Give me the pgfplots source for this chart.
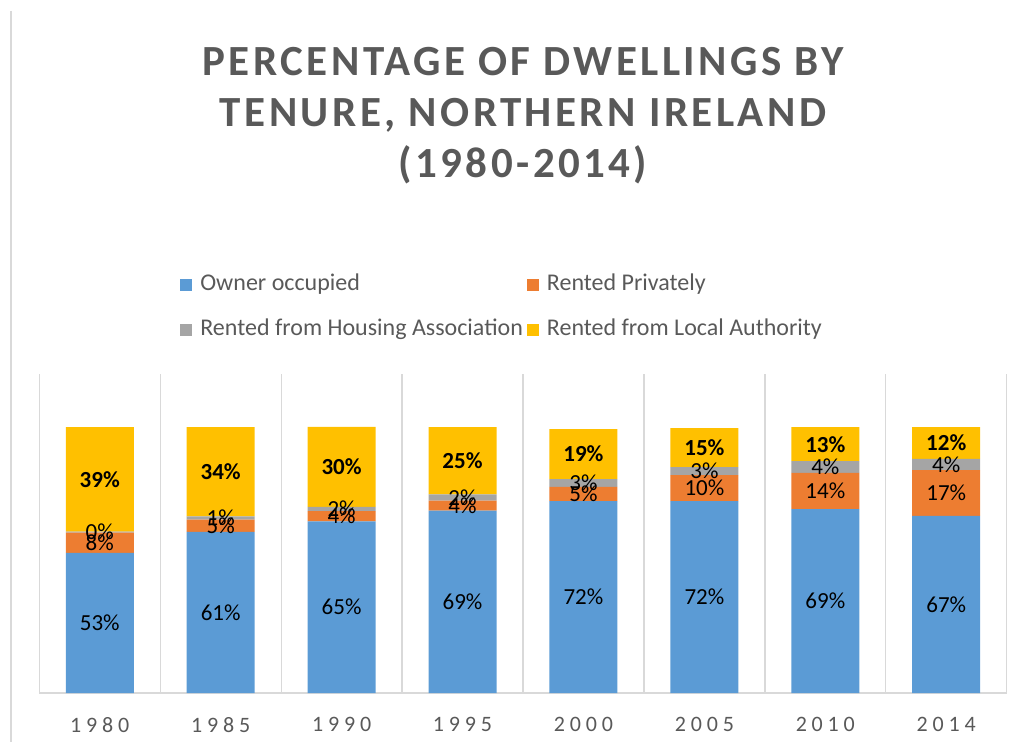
\documentclass[border=0pt]{standalone}
\usepackage{fontspec}
\setmainfont{Carlito}
\usepackage{pgfplots}
\pgfplotsset{compat=1.18}
\usepackage{pgfplotstable}
\definecolor{cOO}{HTML}{5B9BD5}
\definecolor{cRP}{HTML}{ED7D31}
\definecolor{cHA}{HTML}{A5A5A5}
\definecolor{cLA}{HTML}{FFC000}
\definecolor{txt}{HTML}{595959}
\definecolor{grd}{HTML}{D9D9D9}

\pgfplotstableread{
x  oo   rp   ha   la
0  52.7 7.6  0.4  39.3
1  60.6 4.6  1.2  33.6
2  64.6 3.8  1.6  30.1
3  68.6 3.8  2.3  25.3
4  72.2 5.3  3.0  18.8
5  72.2 9.8  3.0  14.6
6  69.2 13.6 4.4  12.8
7  66.6 17.2 4.3  11.9
}\datatable

\pgfplotsset{
  base/.style={
    at={(39.3pt,49pt)}, anchor=south west, scale only axis,
    width=967.4pt, height=319pt,
    xmin=-0.5, xmax=7.5, ymin=0, ymax=120,
  },
  legsq/.style={legend image code/.code={\fill[##1] (0pt,-6pt) rectangle (12pt,6pt);}},
}

\begin{document}
\begin{tikzpicture}[x=1pt,y=1pt]
\useasboundingbox (0,0) rectangle (1023,742);
\draw[grd, line width=2pt] (11,731) -- (11,0);
\begin{axis}[base,
  ybar stacked, bar width=68pt,
  axis y line=none, axis x line*=bottom,
  x axis line style={grd, line width=1.3pt},
  xtick={0,...,7}, xticklabels={1980,1985,1990,1995,2000,2005,2010,2014},
  major tick length=0pt, minor tick length=0pt,
  minor xtick={-0.5,0.5,...,7.5},
  xminorgrids, minor grid style={grd, line width=1.3pt},
  xticklabel style={font=\fontsize{22}{26}\selectfont\addfontfeatures{LetterSpace=22}, text=txt, yshift=-21pt},
  title={PERCENTAGE OF DWELLINGS BY\\TENURE, NORTHERN IRELAND\\(1980-2014)},
  title style={at={(0.5,1.79)}, anchor=center, align=center,
    font=\fontsize{43}{51}\selectfont\bfseries\addfontfeatures{LetterSpace=8}, text=txt},
  legend columns=2,
  legend cell align=left,
  legend style={at={(0.1425,1.326)}, anchor=north west, draw=none, fill=none,
    font=\fontsize{24}{28}\selectfont, text=txt,
    row sep=20pt,
    nodes={text height=16pt, text depth=5pt},
    /tikz/every odd column/.append style={column sep=6pt},
    /tikz/every even column/.append style={column sep=2pt}},
]
\addplot[fill=cOO, draw=none, legsq] table[x=x, y=oo] \datatable;
\addplot[fill=cRP, draw=none, legsq] table[x=x, y=rp] \datatable;
\addplot[fill=cHA, draw=none, legsq] table[x=x, y=ha] \datatable;
\addplot[fill=cLA, draw=none, legsq] table[x=x, y=la] \datatable;
\legend{Owner occupied, Rented Privately, Rented from Housing Association, Rented from Local Authority}
\end{axis}
\begin{axis}[base, hide axis,
  point meta=explicit,
  nodes near coords={\pgfmathprintnumber[fixed,precision=0,assume math mode=true]{\pgfplotspointmeta}\%},
  every node near coord/.append style={anchor=center, font=\fontsize{23}{27}\selectfont, text=black},
]
\addplot[draw=none, mark=none] table[x=x, y expr=\thisrow{oo}/2, meta=oo] \datatable;
\addplot[draw=none, mark=none] table[x=x, y expr=\thisrow{oo}+\thisrow{rp}/2, meta=rp] \datatable;
\addplot[draw=none, mark=none] table[x=x, y expr=\thisrow{oo}+\thisrow{rp}+\thisrow{ha}/2, meta=ha] \datatable;
\addplot[draw=none, mark=none, every node near coord/.append style={font=\fontsize{23}{27}\selectfont\bfseries}] table[x=x, y expr=\thisrow{oo}+\thisrow{rp}+\thisrow{ha}+\thisrow{la}/2, meta=la] \datatable;
\end{axis}
\end{tikzpicture}
\end{document}
